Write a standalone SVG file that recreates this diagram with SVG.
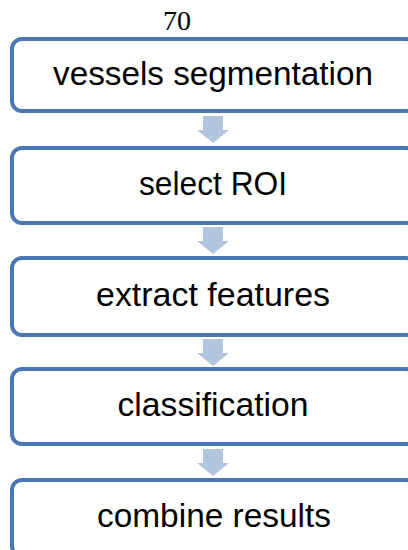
<svg xmlns="http://www.w3.org/2000/svg" width="408" height="550" viewBox="0 0 408 550">
<style>
.box{fill:#fff;stroke:#4a77b0;stroke-width:4}
.lbl{font-family:"Liberation Sans",Arial,sans-serif;font-size:33px;fill:#000;text-anchor:middle}
.arr{fill:#b3c4e0}
</style>
<defs>
<path id="dn" d="M203,0 H223 V14 H229 L213,27 L197,14 H203 Z"/>
</defs>
<rect width="408" height="550" fill="#fff"/>
<text x="177" y="30" font-family="'Liberation Serif','Times New Roman',serif" font-size="28" text-anchor="middle">70</text>
<g id="connectors">
<use href="#dn" class="arr" y="116"/>
<use href="#dn" class="arr" y="227"/>
<use href="#dn" class="arr" y="339"/>
<use href="#dn" class="arr" y="449"/>
</g>
<g id="n1"><rect class="box" x="12" y="39" width="404" height="72" rx="10"/><text class="lbl" x="213" y="85" textLength="320" lengthAdjust="spacingAndGlyphs">vessels segmentation</text></g>
<g id="n2"><rect class="box" x="12" y="148" width="404" height="75" rx="10"/><text class="lbl" x="213" y="195" textLength="148" lengthAdjust="spacingAndGlyphs">select ROI</text></g>
<g id="n3"><rect class="box" x="12" y="258" width="404" height="77" rx="10"/><text class="lbl" x="213" y="306" textLength="234" lengthAdjust="spacingAndGlyphs">extract features</text></g>
<g id="n4"><rect class="box" x="12" y="369" width="404" height="75" rx="10"/><text class="lbl" x="213" y="416" textLength="191" lengthAdjust="spacingAndGlyphs">classification</text></g>
<g id="n5"><rect class="box" x="12" y="480" width="404" height="76" rx="10"/><text class="lbl" x="214" y="527" textLength="234" lengthAdjust="spacingAndGlyphs">combine results</text></g>
</svg>
